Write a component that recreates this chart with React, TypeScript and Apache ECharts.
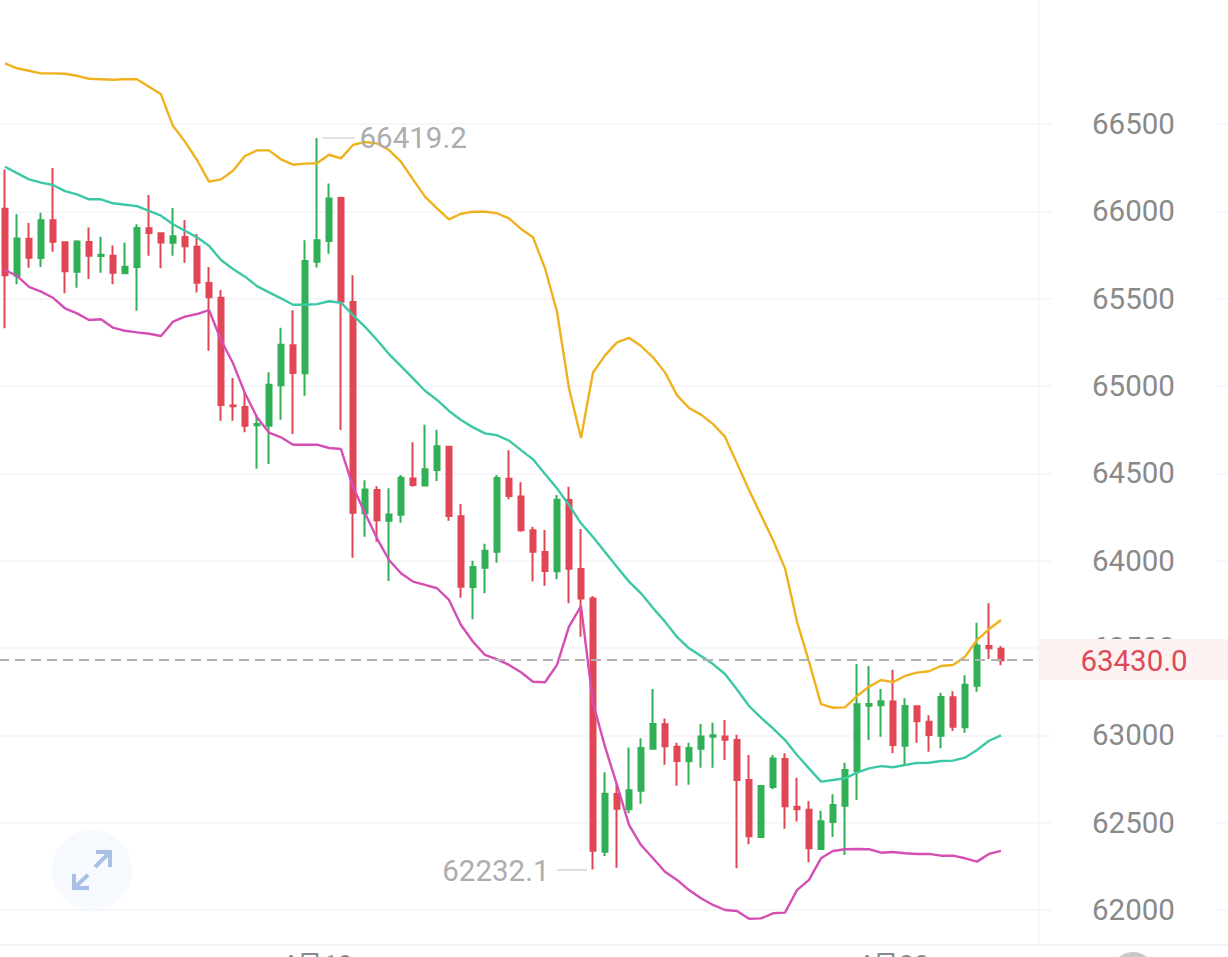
import React, { useEffect, useRef } from "react";
import * as echarts from "echarts";

// [open, close, low, high]
const candles: number[][] = [
  [66015, 65634, 65330, 66240], [65631, 65845, 65582, 65983], [65843, 65734, 65677, 65933], [65733, 65949, 65681, 65992],
  [65949, 65826, 65769, 66248], [65823, 65657, 65531, 65824], [65654, 65828, 65563, 65834], [65824, 65746, 65612, 65908],
  [65744, 65752, 65649, 65855], [65746, 65649, 65582, 65805], [65645, 65683, 65645, 65822], [65681, 65904, 65431, 65926],
  [65903, 65876, 65746, 66093], [65874, 65822, 65674, 65874], [65820, 65857, 65746, 66019], [65853, 65800, 65706, 65950],
  [65797, 65591, 65536, 65870], [65590, 65508, 65202, 65681], [65505, 64891, 64801, 65549], [64889, 64884, 64801, 65046],
  [64880, 64773, 64735, 64964], [64775, 64782, 64526, 64834], [64773, 65007, 64553, 65078], [65004, 65236, 64807, 65334],
  [65233, 65074, 64725, 65433], [65073, 65716, 64944, 65834], [65712, 65834, 65679, 66419.2], [65830, 66074, 65757, 66160],
  [66076, 65483, 64748, 66084], [65481, 64275, 64017, 65634], [64271, 64408, 64137, 64460], [64404, 64231, 64109, 64426],
  [64229, 64265, 63884, 64414], [64263, 64475, 64217, 64490], [64471, 64433, 64423, 64678], [64431, 64523, 64431, 64778],
  [64519, 64655, 64456, 64750], [64652, 64256, 64229, 64652], [64254, 63851, 63788, 64324], [63849, 63964, 63664, 63999],
  [63960, 64057, 63813, 64097], [64051, 64473, 63988, 64490], [64469, 64370, 64351, 64632], [64368, 64174, 64166, 64449],
  [64174, 64051, 63880, 64194], [64050, 63941, 63857, 64175], [63939, 64349, 63893, 64376], [64347, 63954, 63756, 64423],
  [63952, 63784, 63565, 64181], [63784, 62339, 62232.1, 63798], [62334, 62666, 62309, 62788], [62664, 62580, 62242, 62729],
  [62577, 62685, 62554, 62931], [62683, 62927, 62609, 62983], [62923, 63065, 62923, 63265], [63063, 62937, 62832, 63097],
  [62935, 62853, 62712, 62958], [62851, 62927, 62717, 62958], [62923, 62994, 62815, 63065], [62992, 63000, 62815, 63072],
  [62994, 62975, 62859, 63088], [62973, 62744, 62239, 63004], [62744, 62422, 62376, 62887], [62418, 62710, 62418, 62714],
  [62704, 62868, 62691, 62887], [62864, 62594, 62465, 62897], [62591, 62577, 62506, 62757], [62574, 62353, 62273, 62622],
  [62349, 62508, 62349, 62568], [62504, 62601, 62418, 62662], [62597, 62801, 62315, 62843], [62796, 63178, 62630, 63408],
  [63170, 63179, 62973, 63397], [63172, 63195, 62992, 63265], [63193, 62945, 62897, 63376], [62941, 63168, 62836, 63212],
  [63166, 63080, 62958, 63172], [63078, 63002, 62906, 63115], [62998, 63219, 62926, 63244], [63218, 63049, 63025, 63252],
  [63046, 63290, 63015, 63344], [63284, 63515, 63250, 63645], [63511, 63498, 63437, 63756], [63496, 63430, 63401, 63511],
];

const upperBand = [
  66847, 66819, 66805, 66790, 66790, 66788, 66776, 66759, 66756, 66753, 66757, 66756, 66713, 66670, 66488, 66399, 66294,
  66170, 66183, 66232, 66317, 66349, 66349, 66298, 66267, 66273, 66275, 66324, 66303, 66380, 66397, 66389, 66351, 66284,
  66183, 66084, 66017, 65954, 65986, 65998, 65998, 65989, 65960, 65899, 65851, 65674, 65425, 64987, 64702, 65077, 65175,
  65250, 65276, 65229, 65164, 65078, 64948, 64874, 64836, 64782, 64710, 64557, 64404, 64261, 64118, 63956, 63651, 63422,
  63179, 63158, 63160, 63225, 63278, 63317, 63305, 63340, 63359, 63367, 63397, 63403, 63450, 63546, 63607, 63660,
];

const middleBand = [
  66255, 66219, 66183, 66164, 66151, 66116, 66097, 66069, 66069, 66046, 66038, 66030, 66002, 65975, 65926, 65889, 65851,
  65803, 65721, 65670, 65626, 65572, 65536, 65502, 65465, 65465, 65469, 65485, 65477, 65406, 65339, 65263, 65183, 65114,
  65044, 64973, 64920, 64857, 64805, 64763, 64729, 64718, 64687, 64633, 64580, 64496, 64414, 64319, 64214, 64135, 64050,
  63964, 63880, 63813, 63729, 63651, 63563, 63498, 63454, 63408, 63351, 63262, 63168, 63101, 63040, 62973, 62887, 62811,
  62735, 62744, 62754, 62786, 62811, 62824, 62817, 62830, 62842, 62843, 62853, 62855, 62872, 62916, 62969, 63000,
];

const lowerBand = [
  65664, 65631, 65568, 65540, 65505, 65445, 65416, 65378, 65382, 65334, 65316, 65307, 65299, 65286, 65368, 65397, 65412,
  65435, 65263, 65130, 64958, 64821, 64733, 64706, 64664, 64664, 64664, 64645, 64639, 64423, 64271, 64128, 64004, 63928,
  63880, 63861, 63842, 63775, 63632, 63536, 63460, 63435, 63403, 63361, 63307, 63304, 63403, 63622, 63740, 63185, 62935,
  62716, 62487, 62372, 62296, 62219, 62172, 62114, 62067, 62029, 62000, 61994, 61950, 61952, 61981, 61985, 62114, 62172,
  62296, 62338, 62348, 62349, 62348, 62328, 62332, 62325, 62321, 62321, 62311, 62311, 62296, 62277, 62321, 62338,
];

const dateLabels: Record<number, string> = { 26: "4月19", 74: "4月20" };
const categories = Array.from({ length: 88 }, (_, i) => dateLabels[i] ?? "");
const lastPrice = 63430;
const highPrice = 66419.2;
const lowPrice = 62232.1;
const highIndex = 26;
const lowIndex = 49;

const FONT = "Roboto, 'Noto Sans CJK SC', sans-serif";
const GREEN = "#31b057";
const RED = "#e04654";
const GRID_COLOR = "#f4f5f7";

export default function App() {
  const ref = useRef<HTMLDivElement>(null);
  useEffect(() => {
    document.body.style.margin = "0";
    document.body.style.overflow = "hidden";
    const chart = echarts.init(ref.current!, null, { renderer: "svg", width: 1228, height: 957 });
    const gridTop = 45.4;
    const gridHeight = 951.93;
    const priceLabel = (text: string, position: string, offset: number[]) => ({
      show: true,
      formatter: text,
      position,
      offset,
      color: "#adadad",
      fontSize: 29.5,
      fontFamily: FONT,
    });
    const bandLine = (name: string, data: number[], color: string) => ({
      name,
      type: "line",
      xAxisIndex: 0,
      yAxisIndex: 0,
      data,
      showSymbol: false,
      symbol: "none",
      smooth: false,
      lineStyle: { color, width: 2.4 },
      silent: true,
      clip: false,
      z: 4,
    });
    chart.setOption({
      animation: false,
      backgroundColor: "#ffffff",
      grid: [
        { left: -1, top: gridTop, width: 1056, height: gridHeight, outerBoundsMode: "none" },
        { left: 1216, top: gridTop, width: 14, height: gridHeight, outerBoundsMode: "none" },
      ],
      xAxis: [
        {
          type: "category",
          gridIndex: 0,
          data: categories,
          boundaryGap: true,
          offset: -52.3,
          axisLine: { show: false },
          axisTick: { show: false },
          splitLine: { show: false },
          axisLabel: {
            interval: 0,
            margin: 7,
            color: "#8a8a8a",
            fontSize: 27,
            fontFamily: FONT,
          },
        },
        { type: "category", gridIndex: 1, data: [""], show: false },
      ],
      yAxis: [
        {
          type: "value",
          gridIndex: 0,
          position: "right",
          min: 61500,
          max: 66950,
          interval: 500,
          axisLine: { show: false },
          axisTick: { show: false },
          splitLine: { show: true, showMaxLine: false, lineStyle: { color: GRID_COLOR, width: 1.5 } },
          axisLabel: {
            showMaxLabel: false,
            showMinLabel: false,
            margin: 37,
            color: "#8a8a8a",
            fontSize: 29.5,
            fontFamily: FONT,
            align: "left",
            formatter: (v: number) => String(v),
          },
        },
        {
          type: "value",
          gridIndex: 1,
          min: 61500,
          max: 66950,
          interval: 500,
          axisLine: { show: false },
          axisTick: { show: false },
          axisLabel: { show: false },
          splitLine: { show: true, showMaxLine: false, lineStyle: { color: GRID_COLOR, width: 1.5 } },
        },
      ],
      series: [
        {
          type: "candlestick",
          xAxisIndex: 0,
          yAxisIndex: 0,
          data: candles,
          barWidth: 6,
          silent: true,
          z: 2,
          itemStyle: {
            color: GREEN,
            borderColor: GREEN,
            color0: RED,
            borderColor0: RED,
            borderWidth: 2,
          },
          markPoint: {
            symbol: "circle",
            symbolSize: 1,
            silent: true,
            itemStyle: { color: "transparent" },
            data: [
              { coord: [highIndex, highPrice], label: priceLabel(String(highPrice), "right", [37, 0]) },
              { coord: [lowIndex, lowPrice], label: priceLabel(String(lowPrice), "left", [-38, 2]) },
            ],
          },
          markLine: {
            silent: true,
            symbol: "none",
            label: { show: false },
            lineStyle: { color: "#b2b2b6", width: 2, type: [10, 6] },
            data: [{ yAxis: lastPrice }],
            z: 5,
          },
        },
        bandLine("upper", upperBand, "#efb21e"),
        bandLine("middle", middleBand, "#3cc8a6"),
        bandLine("lower", lowerBand, "#d44eb4"),
      ],
      graphic: [
        { type: "rect", z: 100, shape: { x: 1052, y: 0, width: 4, height: 945 }, style: { fill: "#ffffff" }, silent: true },
        { type: "rect", z: 100, shape: { x: 1035, y: 654, width: 4, height: 12 }, style: { fill: "#ffffff" }, silent: true },
        { type: "line", z: 101, shape: { x1: 1039, y1: 0, x2: 1039, y2: 945 }, style: { stroke: GRID_COLOR, lineWidth: 1.5 }, silent: true },
        { type: "line", z: 101, shape: { x1: 0, y1: 945, x2: 1228, y2: 945 }, style: { stroke: GRID_COLOR, lineWidth: 2 }, silent: true },
        { type: "rect", z: 102, shape: { x: 1039, y: 639, width: 189, height: 41 }, style: { fill: "#fdf2f2" }, silent: true },
        {
          type: "text",
          z: 103,
          x: 1134,
          y: 661,
          style: {
            text: lastPrice.toFixed(1),
            fill: "#dd4a57",
            fontSize: 29.5,
            fontFamily: FONT,
            align: "center",
            verticalAlign: "middle",
          },
          silent: true,
        },
        // price label leaders
        { type: "line", z: 6, shape: { x1: 322, y1: 138, x2: 355, y2: 138 }, style: { stroke: "#c6c6c6", lineWidth: 1.2 }, silent: true },
        { type: "line", z: 6, shape: { x1: 557, y1: 870, x2: 587, y2: 870 }, style: { stroke: "#c6c6c6", lineWidth: 1.2 }, silent: true },
        // expand button
        { type: "circle", z: 10, shape: { cx: 92, cy: 870, r: 40 }, style: { fill: "#f6f9fe" }, silent: true },
        { type: "line", z: 11, shape: { x1: 95, y1: 867, x2: 109, y2: 853 }, style: { stroke: "#a9bfe3", lineWidth: 4 }, silent: true },
        { type: "polyline", z: 11, shape: { points: [[96, 852], [110, 852], [110, 867]] }, style: { stroke: "#a9bfe3", lineWidth: 4, fill: "none" }, silent: true },
        { type: "line", z: 11, shape: { x1: 88, y1: 875, x2: 74, y2: 888 }, style: { stroke: "#a9bfe3", lineWidth: 4 }, silent: true },
        { type: "polyline", z: 11, shape: { points: [[74, 874], [74, 888], [89, 888]] }, style: { stroke: "#a9bfe3", lineWidth: 4, fill: "none" }, silent: true },
        // bottom tab
        { type: "circle", z: 10, shape: { cx: 1133, cy: 974, r: 22 }, style: { fill: "#c9c9cb" }, silent: true },
      ],
    });
    return () => chart.dispose();
  }, []);
  return <div ref={ref} style={{ position: "absolute", left: 0, top: 0, width: 1228, height: 957, overflow: "hidden" }} />;
}
